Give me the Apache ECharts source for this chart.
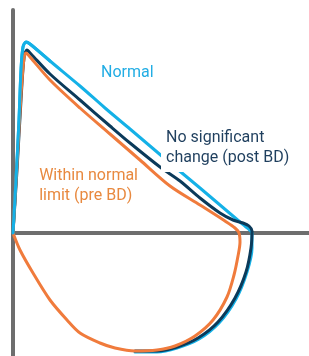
<!DOCTYPE html>
<html>
<head>
<meta charset="utf-8">
<title>Flow-volume loop</title>
<script src="https://cdn.jsdelivr.net/npm/echarts@6/dist/echarts.min.js"></script>
<style>
  html, body { margin: 0; padding: 0; background: #fff; }
  #chart { width: 309px; height: 356px; }
</style>
</head>
<body>
<div id="chart"></div>
<script>
// volume (L), flow (L/s)
// the left half of the inspiratory limb is shared, so normal and post BD stop where they meet pre BD
const normalLoop = [
  [0, 0], [0.075, 2.12], [0.15, 4.52], [0.2, 6.52], [0.25, 7.44], [0.325, 7.64], [0.425, 7.56],
  [0.925, 6.88], [1.675, 5.88], [2.3, 5.0], [2.925, 4.16], [3.425, 3.48], [3.925, 2.8],
  [4.375, 2.2], [4.675, 1.8], [5.175, 1.12], [5.675, 0.44], [5.825, 0.24], [5.925, 0.1],
  [5.975, 0], [5.975, -0.6], [5.85, -1.56], [5.575, -2.64], [5.15, -3.6], [4.65, -4.24],
  [4.1, -4.6], [3.6, -4.76], [3.05, -4.76]
]

const postBdLoop = [
  [0, 0], [0.1, 2.52], [0.2, 5.32], [0.275, 7.0], [0.35, 7.32], [0.45, 7.16], [0.925, 6.36],
  [1.675, 5.32], [2.425, 4.28], [2.925, 3.6], [3.675, 2.64], [4.175, 2.08], [4.675, 1.4],
  [5.175, 0.8], [5.5, 0.52], [5.75, 0.4], [5.9, 0.28], [5.975, 0.08], [5.95, -0.6],
  [5.825, -1.56], [5.55, -2.6], [5.125, -3.56], [4.625, -4.2], [4.1, -4.56], [3.6, -4.72],
  [3.05, -4.72]
]

const preBdLoop = [
  [0, 0], [0.1, 2.72], [0.2, 5.52], [0.275, 7.0], [0.325, 7.2], [0.425, 7.04], [0.925, 6.12],
  [1.675, 5.0], [2.425, 3.96], [3.175, 2.92], [3.925, 1.88], [4.675, 1.12], [5.3, 0.48],
  [5.55, 0.2], [5.65, 0], [5.675, -0.36], [5.625, -0.92], [5.525, -1.68], [5.35, -2.56],
  [5.0, -3.48], [4.55, -4.12], [4.05, -4.52], [3.6, -4.68], [3.05, -4.72], [2.55, -4.6],
  [2.175, -4.4], [1.675, -4.0], [1.35, -3.48], [0.925, -2.68], [0.5, -1.6], [0.175, -0.68], [0, 0]
]

const labels = {
  normal: 'Normal',
  post: 'No significant\nchange (post BD)',
  pre: 'Within normal\nlimit (pre BD)'
}

const BLUE = '#14b1e7'
const NAVY = '#0b3a5a'
const ORANGE = '#f07b3c'

const chart = echarts.init(document.getElementById('chart'))

const lineSeries = (data, color, z) => ({
  type: 'line',
  data: data,
  smooth: 0.3,
  symbol: 'none',
  clip: false,
  z: z,
  lineStyle: { color: color, width: 3, cap: 'round', join: 'round' },
  emphasis: { disabled: true }
})

chart.setOption({
  animation: false,
  grid: { left: 13, right: 0, top: 10, bottom: 0 },
  xAxis: {
    type: 'value',
    min: 0,
    max: 7.4,
    axisLine: { onZero: true, lineStyle: { color: '#6e6e6e', width: 4 } },
    axisTick: { show: false },
    axisLabel: { show: false },
    splitLine: { show: false }
  },
  yAxis: {
    type: 'value',
    min: -4.92,
    max: 8.92,
    axisLine: { onZero: true, lineStyle: { color: '#6e6e6e', width: 4 } },
    axisTick: { show: false },
    axisLabel: { show: false },
    splitLine: { show: false }
  },
  series: [
    lineSeries(normalLoop, BLUE, 2),
    lineSeries(postBdLoop, NAVY, 3),
    lineSeries(preBdLoop, ORANGE, 4),
    // the normal curve's steep rise sits on top of the others
    lineSeries(normalLoop.slice(0, 8), BLUE, 5)
  ],
  graphic: [
    {
      type: 'text', left: 101, top: 65, z: 10,
      style: { text: labels.normal, fill: '#22ade4', font: '16px Roboto' }
    },
    {
      type: 'text', left: 161, top: 126, z: 10,
      style: {
        text: labels.post, fill: '#1f3f5e', font: '16px Roboto', lineHeight: 20,
        backgroundColor: '#fff', padding: [2, 4, 4, 5]
      }
    },
    {
      type: 'text', right: 171, top: 166, z: 10,
      style: {
        text: labels.pre, fill: '#e8893f', font: '16px Roboto', lineHeight: 20, align: 'right'
      }
    }
  ]
})
</script>
</body>
</html>
